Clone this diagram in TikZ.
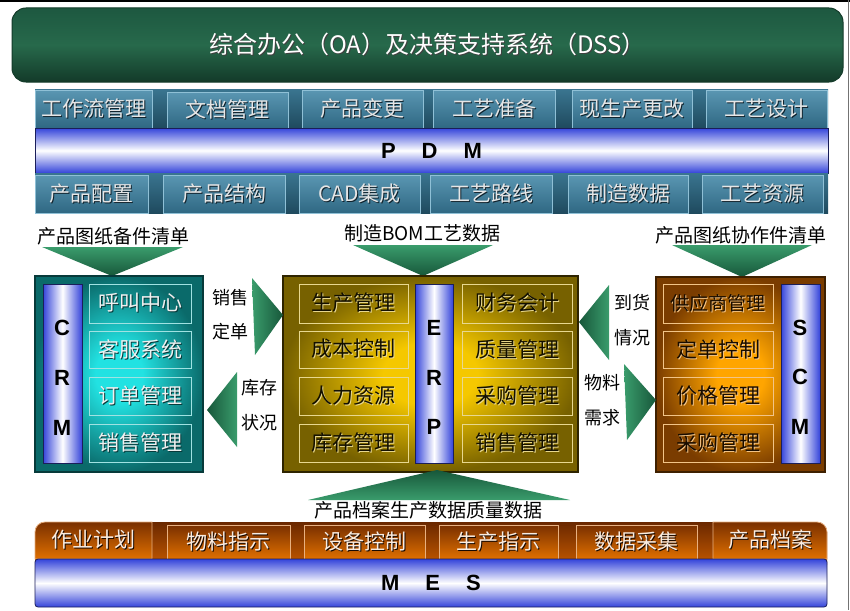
\documentclass[tikz,border=0pt]{standalone}
\usepackage{fontspec}
\setmainfont{Noto Sans CJK SC}
\newfontfamily\latf{Liberation Sans}
\definecolor{ttlA}{HTML}{1D5840}
\definecolor{ttlM}{HTML}{27694B}
\definecolor{ttlB}{HTML}{133A29}
\definecolor{pdmRa}{HTML}{3A7590}
\definecolor{pdmRb}{HTML}{1F4A5E}
\definecolor{pdmCa}{HTML}{5A96B2}
\definecolor{pdmCb}{HTML}{2F6883}
\definecolor{pdmLine}{HTML}{8FC0D6}
\definecolor{pdmTx}{HTML}{E6E6E6}
\definecolor{pdmSh}{HTML}{10222C}
\definecolor{barBlue}{HTML}{3444DA}
\definecolor{barEdge}{HTML}{1A1E5A}
\definecolor{grL}{HTML}{3A9C6C}
\definecolor{grD}{HTML}{17573A}
\definecolor{crmIn}{HTML}{22E2E2}
\definecolor{crmOut}{HTML}{0A6A6A}
\definecolor{crmEdge}{HTML}{073A3A}
\definecolor{crmLine}{HTML}{A0E2E2}
\definecolor{erpIn}{HTML}{F5C800}
\definecolor{erpOut}{HTML}{776100}
\definecolor{erpEdge}{HTML}{2E2400}
\definecolor{erpLine}{HTML}{E8D890}
\definecolor{scmIn}{HTML}{FFA500}
\definecolor{scmOut}{HTML}{7A3C00}
\definecolor{scmEdge}{HTML}{3E2000}
\definecolor{scmLine}{HTML}{F2C488}
\definecolor{mesA}{HTML}{6A2800}
\definecolor{mesB}{HTML}{D86400}
\definecolor{mesCa}{HTML}{7A3000}
\definecolor{mesCb}{HTML}{E07000}
\definecolor{mesLine}{HTML}{E8B080}
\pgfdeclareradialshading{crmsh}{\pgfpoint{0bp}{0bp}}{color(0bp)=(crmIn); color(7bp)=(crmIn); color(25bp)=(crmOut); color(50bp)=(crmOut)}
\pgfdeclareradialshading{erpsh}{\pgfpoint{0bp}{0bp}}{color(0bp)=(erpIn); color(8bp)=(erpIn); color(25bp)=(erpOut); color(50bp)=(erpOut)}
\pgfdeclareradialshading{scmsh}{\pgfpoint{0bp}{0bp}}{color(0bp)=(scmIn); color(7bp)=(scmIn); color(25bp)=(scmOut); color(50bp)=(scmOut)}
\newcommand\shd[3]{\leavevmode\rlap{\kern1pt\raisebox{-1pt}{\color{#1}#3}}{\color{#2}#3}}
\newcommand\fs[1]{\fontsize{#1}{#1}\selectfont}
\newcommand\bx[7]{\node[#6,anchor=north west,minimum width={(#4-#2)*1pt},minimum height={(#5-#3)*1pt}] (#1) at (#2,#3) {#7};}
\newcommand\pdt[1]{\shd{pdmSh}{pdmTx}{#1}}
\newcommand\crt[1]{\shd{crmEdge}{white!94!black}{#1}}
\newcommand\ert[1]{\shd{erpLine}{black!85!erpOut}{#1}}
\newcommand\sct[1]{\shd{scmLine}{black!80!scmOut}{#1}}
\newcommand\mst[1]{\shd{black!80!mesA}{white!88!mesB}{#1}}
\begin{document}
\begin{tikzpicture}[x=1pt,y=-1pt,
  every node/.style={inner sep=0pt,outer sep=0pt},
  titlebox/.style={draw=ttlB,line width=1pt,rounded corners=14pt,top color=ttlA,bottom color=ttlB,middle color=ttlM,font=\fs{24}},
  pdmrow/.style={top color=pdmRa,bottom color=pdmRb},
  pdmcell/.style={draw=pdmLine,line width=0.8pt,top color=pdmCa,bottom color=pdmCb,font=\fs{21}},
  hbar/.style={draw=barEdge,line width=0.8pt,top color=barBlue,bottom color=barBlue,middle color=white,font=\latf\bfseries\fs{22}},
  vbar/.style={draw=barEdge,line width=0.8pt,left color=barBlue,right color=barBlue,middle color=white},
  vlet/.style={font=\latf\bfseries\fs{22}},
  crmbox/.style={draw=crmEdge,line width=1.5pt,shade,shading=crmsh},
  erpbox/.style={draw=erpEdge,line width=1.5pt,shade,shading=erpsh},
  scmbox/.style={draw=scmEdge,line width=1.5pt,shade,shading=scmsh},
  crmcell/.style={draw=crmLine,line width=0.8pt,font=\fs{21}},
  erpcell/.style={draw=erpLine,line width=0.8pt,font=\fs{21}},
  scmcell/.style={draw=scmLine,line width=0.8pt,font=\fs{21}},
  mesrow/.style={rounded corners=10pt,top color=mesA,bottom color=mesB},
  mescell/.style={draw=mesLine,line width=0.8pt,top color=mesCa,bottom color=mesCb,font=\fs{21}},
  mestext/.style={font=\fs{21}},
  lbl/.style={font=\fs{19},text=black},
  albl/.style={font=\fs{18},text=black},
  grdown/.style={top color=grL,bottom color=grD},
  grup/.style={top color=grD,bottom color=grL},
  grright/.style={left color=grL,right color=grD},
  grleft/.style={left color=grD,right color=grL}]
\useasboundingbox (0,0) rectangle (850,610);
\fill[white] (0,0) rectangle (850,610);
\draw[black,line width=2pt] (0,1) -- (850,1);
\draw[black!55,line width=0.8pt] (848.5,0) -- (848.5,610);
% title
\bx{title}{12}{8}{843}{82}{titlebox}{\shd{black!75}{white}{综合办公（OA）及决策支持系统（DSS）}}
% PDM top row
\bx{prow1}{35}{89}{828}{128}{pdmrow}{}
\bx{t1}{35}{90}{152}{128}{pdmcell}{\pdt{工作流管理}}
\bx{t2}{167}{92}{288}{128}{pdmcell}{\pdt{文档管理}}
\bx{t3}{302}{90}{423}{128}{pdmcell}{\pdt{产品变更}}
\bx{t4}{433}{90}{555}{128}{pdmcell}{\pdt{工艺准备}}
\bx{t5}{572}{90}{692}{128}{pdmcell}{\pdt{现生产更改}}
\bx{t6}{706}{90}{827}{128}{pdmcell}{\pdt{工艺设计}}
\bx{pdm}{35}{128}{828}{173}{hbar}{P\hspace{26pt}D\hspace{26pt}M}
% PDM bottom row
\bx{prow2}{35}{173}{828}{213}{pdmrow}{}
\bx{b1}{35}{175}{148}{213}{pdmcell}{\pdt{产品配置}}
\bx{b2}{163}{175}{285}{213}{pdmcell}{\pdt{产品结构}}
\bx{b3}{299}{175}{420}{213}{pdmcell}{\pdt{CAD集成}}
\bx{b4}{430}{175}{552}{213}{pdmcell}{\pdt{工艺路线}}
\bx{b5}{568}{175}{688}{213}{pdmcell}{\pdt{制造数据}}
\bx{b6}{702}{175}{823}{213}{pdmcell}{\pdt{工艺资源}}
% labels and down arrows
\node[lbl] (l1) at (113,236) {产品图纸备件清单};
\node[lbl] (l2) at (422,233) {制造BOM工艺数据};
\node[lbl] (l3) at (741,235) {产品图纸协作件清单};
\coordinate (d1a) at (42,247); \coordinate (d1b) at (183,247); \coordinate (d1c) at (112,276);
\coordinate (d2a) at (353,245); \coordinate (d2b) at (493,245); \coordinate (d2c) at (423,276);
\coordinate (d3a) at (672,245); \coordinate (d3b) at (812,245); \coordinate (d3c) at (742,277);
\path[grdown] (d1a) -- (d1b) -- (d1c) -- cycle;
\path[grdown] (d2a) -- (d2b) -- (d2c) -- cycle;
\path[grdown] (d3a) -- (d3b) -- (d3c) -- cycle;
% CRM
\bx{crm}{35}{276}{203}{472}{crmbox}{}
\bx{crmbar}{43}{284}{82}{463}{vbar}{}
\node[vlet] at (62,328) {C};
\node[vlet] at (62,378) {R};
\node[vlet] at (62,428) {M};
\bx{c1}{89}{284}{191}{323}{crmcell}{\crt{呼叫中心}}
\bx{c2}{89}{331}{191}{368}{crmcell}{\crt{客服系统}}
\bx{c3}{89}{377}{191}{415}{crmcell}{\crt{订单管理}}
\bx{c4}{89}{424}{191}{462}{crmcell}{\crt{销售管理}}
% ERP
\bx{erp}{283}{276}{578}{472}{erpbox}{}
\bx{erpbar}{415}{284}{453}{463}{vbar}{}
\node[vlet] at (434,328) {E};
\node[vlet] at (434,378) {R};
\node[vlet] at (434,427) {P};
\bx{e1}{299}{284}{408}{323}{erpcell}{\ert{生产管理}}
\bx{e2}{299}{331}{408}{368}{erpcell}{\ert{成本控制}}
\bx{e3}{299}{377}{408}{415}{erpcell}{\ert{人力资源}}
\bx{e4}{299}{424}{408}{462}{erpcell}{\ert{库存管理}}
\bx{e5}{462}{284}{572}{323}{erpcell}{\ert{财务会计}}
\bx{e6}{462}{331}{572}{368}{erpcell}{\ert{质量管理}}
\bx{e7}{462}{377}{572}{415}{erpcell}{\ert{采购管理}}
\bx{e8}{462}{424}{572}{462}{erpcell}{\ert{销售管理}}
% SCM
\bx{scm}{656}{277}{825}{472}{scmbox}{}
\bx{scmbar}{781}{284}{820}{463}{vbar}{}
\node[vlet] at (800,328) {S};
\node[vlet] at (800,377) {C};
\node[vlet] at (800,427) {M};
\bx{s1}{663}{284}{773}{323}{scmcell}{\sct{\fs{19}供应商管理}}
\bx{s2}{663}{331}{773}{368}{scmcell}{\sct{定单控制}}
\bx{s3}{663}{377}{773}{415}{scmcell}{\sct{价格管理}}
\bx{s4}{663}{424}{773}{462}{scmcell}{\sct{采购管理}}
% side arrows
\coordinate (a1a) at (252,278); \coordinate (a1b) at (255,355); \coordinate (a1c) at (283,315);
\coordinate (a2a) at (237,372); \coordinate (a2b) at (237,447); \coordinate (a2c) at (207,410);
\coordinate (a3a) at (609,285); \coordinate (a3b) at (609,360); \coordinate (a3c) at (579,322);
\coordinate (a4a) at (624,364); \coordinate (a4b) at (627,440); \coordinate (a4c) at (656,400);
\path[grright] (a1a) -- (a1c) -- (a1b) -- cycle;
\path[grleft] (a2a) -- (a2c) -- (a2b) -- cycle;
\path[grleft] (a3a) -- (a3c) -- (a3b) -- cycle;
\path[grright] (a4a) -- (a4c) -- (a4b) -- cycle;
\node[albl] (x1) at (230,298) {销售};
\node[albl] (x2) at (230,332) {定单};
\node[albl] (x3) at (259,388) {库存};
\node[albl] (x4) at (259,423) {状况};
\node[albl] (x5) at (632,303) {到货};
\node[albl] (x6) at (632,338) {情况};
\node[albl] (x7) at (602,383) {物料};
\node[albl] (x8) at (602,418) {需求};
% up arrow
\coordinate (u1) at (308,500); \coordinate (u2) at (570,500); \coordinate (u3) at (437,470);
\path[grup] (u1) -- (u3) -- (u2) -- cycle;
\node[lbl] (l4) at (428,510) {产品档案生产数据质量数据};
% MES
\path[mesrow] (35,522) rectangle (827,575);
\path[mescell] (35,559) -- (35,532) arc[start angle=180,end angle=270,radius=10] -- (152,522) -- (152,559) -- cycle;
\node[mestext] (m1) at (93.5,540.5) {\mst{作业计划}};
\bx{m2}{167}{525}{290}{559}{mescell}{\mst{物料指示}}
\bx{m3}{304}{525}{425}{559}{mescell}{\mst{设备控制}}
\bx{m4}{439}{525}{558}{559}{mescell}{\mst{生产指示}}
\bx{m5}{576}{525}{697}{559}{mescell}{\mst{数据采集}}
\path[mescell] (713,559) -- (713,522) -- (817,522) arc[start angle=270,end angle=360,radius=10] -- (827,559) -- cycle;
\node[mestext] (m6) at (770,540.5) {\mst{产品档案}};
\bx{mes}{35}{559}{827}{607}{hbar,rounded corners=3pt}{M\hspace{26pt}E\hspace{26pt}S}
\end{tikzpicture}
\end{document}
